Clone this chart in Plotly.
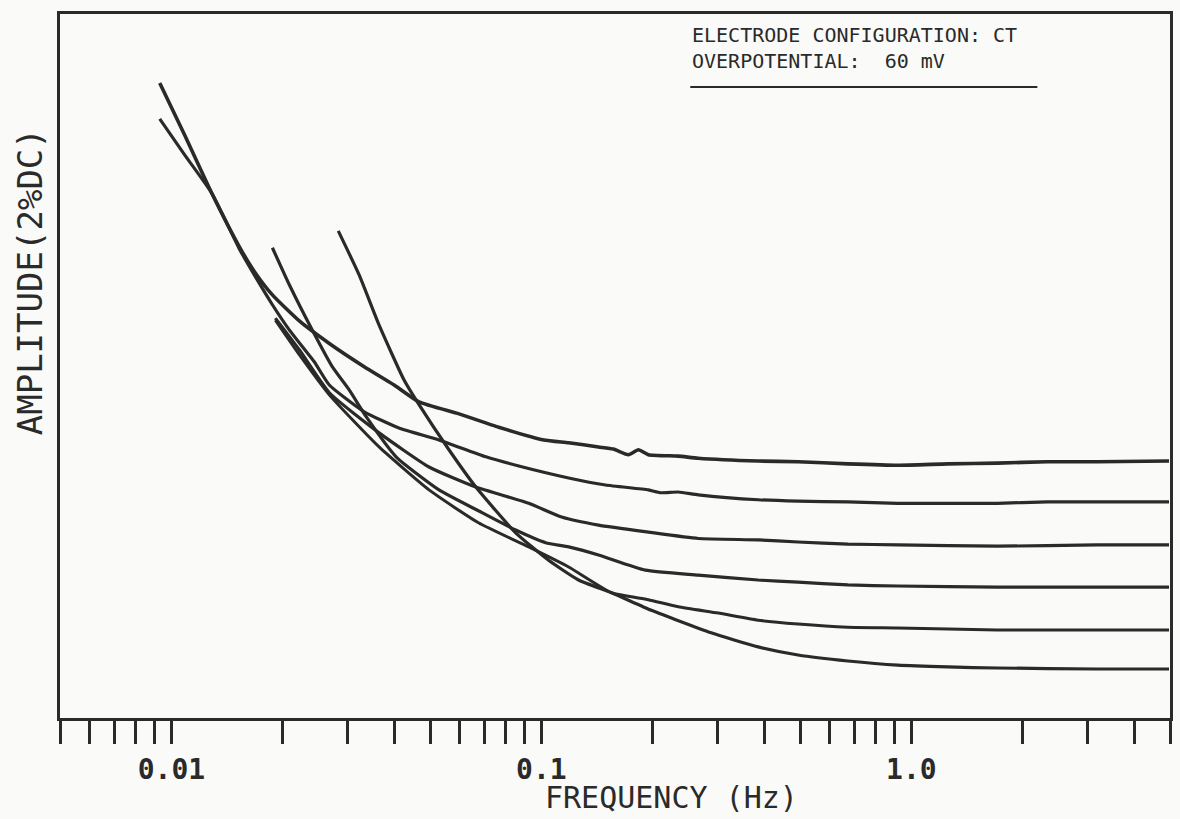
import plotly.graph_objects as go

# ---- data (frequency in Hz, amplitude in arbitrary units, 0-100 over the frame) ----
freq_c1 = [0.0093, 0.01086, 0.01284, 0.01528, 0.01677, 0.01875, 0.02217, 0.02672, 0.0332, 0.04,
           0.0467, 0.0599, 0.0767, 0.1015, 0.1185, 0.1427, 0.1566, 0.1719, 0.1829, 0.1946,
           0.2345, 0.2655, 0.3852, 0.4939, 0.6736, 0.9187, 1.253, 1.709, 2.33, 3.178, 4.97]
amp_c1 = [90.2, 82.8, 74.6, 66.9, 63.4, 60.1, 56.4, 53.2, 49.9, 47.3,
          44.9, 43.2, 41.3, 39.5, 39.1, 38.5, 38.2, 37.4, 38.1, 37.4,
          37.2, 36.9, 36.5, 36.4, 36.1, 35.9, 36.1, 36.2, 36.4, 36.4, 36.5]

freq_c2 = [0.0093, 0.01086, 0.01284, 0.01528, 0.01677, 0.01875, 0.02085, 0.02433, 0.02672, 0.0332,
           0.0412, 0.05288, 0.0708, 0.08687, 0.1185, 0.1491, 0.1946, 0.2100, 0.2345, 0.2655,
           0.3852, 0.4939, 0.6736, 0.9187, 1.253, 1.709, 2.33, 3.178, 4.97]
amp_c2 = [85.1, 80.0, 74.6, 66.6, 62.9, 58.7, 55.1, 50.6, 47.3, 43.5,
          41.2, 39.5, 37.1, 35.8, 34.1, 33.1, 32.4, 32.0, 32.1, 31.7,
          31.0, 30.8, 30.7, 30.5, 30.5, 30.5, 30.7, 30.7, 30.7]

freq_c3 = [0.0191, 0.02217, 0.02672, 0.03643, 0.0497, 0.06651, 0.09243, 0.1134, 0.1427, 0.1946,
           0.2655, 0.3852, 0.4939, 0.6736, 0.9187, 1.709, 3.178, 4.97]
amp_c3 = [56.8, 52.3, 46.2, 40.5, 35.65, 32.8, 30.5, 28.55, 27.4, 26.4,
          25.5, 25.3, 25.0, 24.7, 24.6, 24.4, 24.6, 24.6]

freq_c4 = [0.01875, 0.02085, 0.02403, 0.02721, 0.03024, 0.03361, 0.04049, 0.05288, 0.06778, 0.08523,
           0.1027, 0.1185, 0.1427, 0.1910, 0.2655, 0.3852, 0.4939, 0.6736, 0.9187, 1.709, 3.178, 4.97]
amp_c4 = [66.8, 61.5, 55.1, 49.9, 46.6, 42.8, 37.1, 32.4, 29.4, 26.7,
          24.9, 24.3, 23.15, 21.0, 20.3, 19.6, 19.3, 18.9, 18.75, 18.6, 18.6, 18.6]

freq_c5 = [0.0191, 0.02217, 0.02672, 0.03643, 0.0497, 0.06778, 0.09243, 0.1185, 0.1547, 0.1946,
           0.2345, 0.3006, 0.3852, 0.4939, 0.6736, 0.9187, 1.709, 3.178, 4.97]
amp_c5 = [56.5, 51.6, 45.9, 38.5, 32.4, 27.7, 24.3, 21.45, 17.8, 16.8,
          15.8, 14.9, 13.9, 13.35, 12.9, 12.8, 12.5, 12.5, 12.5]

freq_c6 = [0.02825, 0.03219, 0.03643, 0.04255, 0.0467, 0.05626, 0.06651, 0.08523, 0.1046, 0.1260,
           0.1547, 0.1983, 0.2877, 0.3852, 0.4939, 0.6736, 0.9187, 1.253, 1.709, 3.178, 4.97]
amp_c6 = [69.2, 62.9, 55.8, 48.0, 44.5, 38.1, 32.8, 26.3, 22.4, 19.6,
          17.8, 15.3, 12.1, 10.1, 8.95, 8.1, 7.5, 7.25, 7.1, 6.96, 6.96]

curves = [(freq_c1, amp_c1), (freq_c2, amp_c2), (freq_c3, amp_c3),
          (freq_c4, amp_c4), (freq_c5, amp_c5), (freq_c6, amp_c6)]
line_widths = [3.6, 3.2, 3.2, 3.2, 3.0, 3.2]

tick_vals = [0.005, 0.006, 0.007, 0.008, 0.009, 0.01,
             0.02, 0.03, 0.04, 0.05, 0.06, 0.07, 0.08, 0.09, 0.1,
             0.2, 0.3, 0.4, 0.5, 0.6, 0.7, 0.8, 0.9, 1.0,
             2, 3, 4, 5]
tick_text = ["" for _ in tick_vals]
tick_text[tick_vals.index(0.01)] = "0.01"
tick_text[tick_vals.index(0.1)] = "0.1"
tick_text[tick_vals.index(1.0)] = "1.0"

x_title = "FREQUENCY (Hz)"
y_title = "AMPLITUDE(2%DC)"
note_lines = ["ELECTRODE CONFIGURATION: CT", "OVERPOTENTIAL:  60 mV"]

ink = "#2a2a2a"
paper = "#fafaf8"
mono = "DejaVu Sans Mono"

fig = go.Figure()
for (f, a), w in zip(curves, line_widths):
    fig.add_trace(go.Scatter(x=f, y=a, mode="lines",
                             line=dict(color=ink, width=w, shape="spline", smoothing=0.5),
                             showlegend=False, hoverinfo="skip"))

fig.update_layout(
    width=1180, height=819,
    margin=dict(l=60, r=7, t=14, b=101),
    paper_bgcolor=paper, plot_bgcolor=paper,
    showlegend=False,
    xaxis=dict(type="log", range=[-2.30103, 0.69897],
               tickmode="array", tickvals=tick_vals, ticktext=tick_text,
               ticks="outside", ticklen=23, tickwidth=3, tickcolor=ink,
               ticklabelstandoff=1,
               tickfont=dict(family=mono, size=28, color=ink, weight="bold"),
               showline=True, linewidth=3, linecolor=ink, mirror=True,
               showgrid=False, zeroline=False),
    yaxis=dict(range=[0, 100], showticklabels=False, ticks="",
               showline=True, linewidth=3, linecolor=ink, mirror=True,
               showgrid=False, zeroline=False),
)

fig.add_annotation(text=x_title, xref="paper", yref="paper", x=0.5508, y=-0.1125,
                   xanchor="center", yanchor="middle", showarrow=False,
                   font=dict(family=mono, size=30, color=ink))
fig.add_annotation(text=y_title, xref="paper", yref="paper", x=-0.027, y=0.619,
                   xanchor="center", yanchor="middle", showarrow=False, textangle=-90,
                   font=dict(family=mono, size=34, color=ink))
fig.add_annotation(text="<br>".join(note_lines), xref="paper", yref="paper",
                   x=0.5678, y=0.951, align="left",
                   xanchor="left", yanchor="middle", showarrow=False,
                   font=dict(family=mono, size=20, color=ink))
fig.add_shape(type="line", xref="paper", yref="paper", x0=0.5678, x1=0.8805,
              y0=0.8963, y1=0.8963, line=dict(color=ink, width=2))

fig.write_html("out.html")
